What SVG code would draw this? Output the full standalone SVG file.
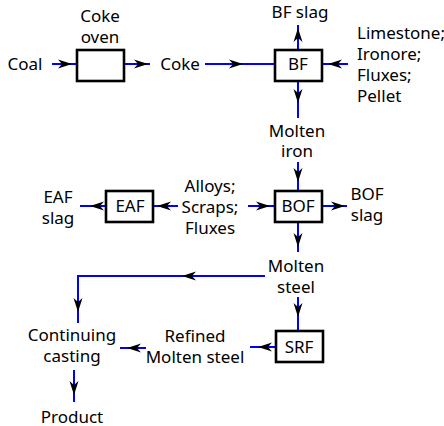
<svg xmlns="http://www.w3.org/2000/svg" width="444" height="426" viewBox="0 0 444 426">
<style>
text{font-family:"Noto Sans","Open Sans","DejaVu Sans",sans-serif;font-size:17px;fill:#000;text-anchor:middle}
.l{text-anchor:start}
.box{fill:#fff;stroke:#000;stroke-width:2.6}
.c{fill:none;stroke:#0000ff;stroke-width:2;marker-mid:url(#ah)}
</style>
<defs>
<marker id="ah" markerUnits="userSpaceOnUse" viewBox="-15 -5 16 10" markerWidth="16" markerHeight="10" refX="0" refY="0" orient="auto">
<path d="M0,0 L-14,-4.5 L-10,0 L-14,4.5 Z" fill="#000"/>
</marker>
</defs>
<g id="connectors">
<path class="c" d="M52,64 L72,64 L77,64"/>
<path class="c" d="M124,64 L148,64 L150,64"/>
<path class="c" d="M205,64 L243,64 L275,64"/>
<path class="c" d="M348,64 L328,64 L322,64"/>
<path class="c" d="M298,50 L298,28 L298,25"/>
<path class="c" d="M298,81 L298,103 L298,118"/>
<path class="c" d="M298,162 L298,182 L298,191"/>
<path class="c" d="M248,206 L270,206 L275,206"/>
<path class="c" d="M322,206 L345,206 L347,206"/>
<path class="c" d="M298,222 L298,247 L298,252"/>
<path class="c" d="M178,206 L157,206 L153,206"/>
<path class="c" d="M106,206 L90,206 L80,206"/>
<path class="c" d="M265,276 L182,276 L78,276"/>
<path class="c" d="M78,275 L78,312 L78,323"/>
<path class="c" d="M298,297 L298,317 L298,331"/>
<path class="c" d="M276,347 L258,347 L250,347"/>
<path class="c" d="M146,348 L127,348 L120,348"/>
<path class="c" d="M74,370 L74,395 L74,402"/>
</g>
<g id="coal"><text x="25" y="70">Coal</text></g>
<g id="coke-oven"><rect class="box" x="77" y="50" width="47" height="31"/><text x="100" y="22">Coke</text><text x="100" y="43">oven</text></g>
<g id="coke"><text x="180" y="70">Coke</text></g>
<g id="bf"><rect class="box" x="275" y="50" width="47" height="31"/><text x="298" y="70">BF</text></g>
<g id="bf-slag"><text x="300" y="18">BF slag</text></g>
<g id="bf-inputs"><text class="l" x="357" y="39">Limestone;</text><text class="l" x="357" y="60">Ironore;</text><text class="l" x="357" y="81">Fluxes;</text><text class="l" x="357" y="102">Pellet</text></g>
<g id="molten-iron"><text x="297" y="137">Molten</text><text x="297" y="157">iron</text></g>
<g id="bof"><rect class="box" x="275" y="191" width="47" height="31"/><text x="298" y="212">BOF</text></g>
<g id="bof-slag"><text x="367" y="200">BOF</text><text x="367" y="221">slag</text></g>
<g id="additions"><text x="210" y="192">Alloys;</text><text x="210" y="213">Scraps;</text><text x="210" y="234">Fluxes</text></g>
<g id="eaf"><rect class="box" x="106" y="191" width="47" height="31"/><text x="130" y="212">EAF</text></g>
<g id="eaf-slag"><text x="58" y="203">EAF</text><text x="58" y="224">slag</text></g>
<g id="molten-steel"><text x="296" y="272">Molten</text><text x="296" y="293">steel</text></g>
<g id="srf"><rect class="box" x="276" y="331" width="47" height="31"/><text x="299" y="353">SRF</text></g>
<g id="refined"><text x="195" y="342">Refined</text><text x="195" y="363">Molten steel</text></g>
<g id="casting"><text x="72" y="341">Continuing</text><text x="72" y="362">casting</text></g>
<g id="product"><text x="72" y="423">Product</text></g>
</svg>
